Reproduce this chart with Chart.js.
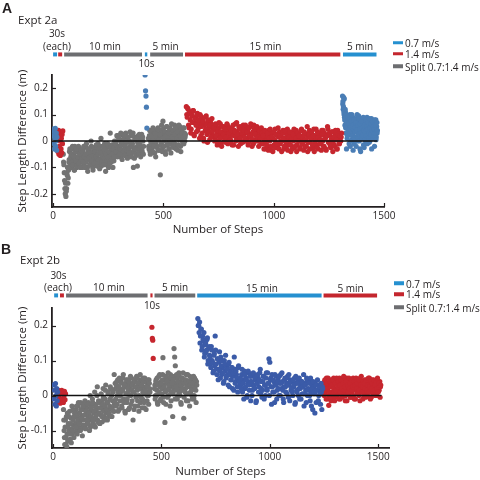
<!DOCTYPE html>
<html>
<head>
<meta charset="utf-8">
<script src="https://cdn.jsdelivr.net/npm/chart.js@4.4.0/dist/chart.umd.min.js"></script>
<style>
  html, body { margin: 0; padding: 0; background: #fff; }
  #wrap { position: relative; width: 480px; height: 480px; overflow: hidden; font-family: "Open Sans", sans-serif; color: #231f20; }
  .pane { position: absolute; left: 0; width: 480px; height: 240px; }
  .t { position: absolute; white-space: nowrap; line-height: 1; font-size: 10px; transform: translate(-50%, -50%); }
  .l { transform: translate(0, -50%); }
  .big { font: bold 14px "Liberation Sans", Arial, sans-serif; }
  .ex { font-size: 11.5px; }
  .sw { position: absolute; width: 10px; height: 3.5px; transform: translate(0, -50%); }
</style>
</head>
<body>
<div id="wrap">
  <div class="pane" style="top:0"><canvas id="chartA" width="480" height="240"></canvas></div>
  <div class="pane" style="top:240px"><canvas id="chartB" width="480" height="240"></canvas></div>

  <!-- panel A labels -->
  <div class="t l big" style="left:2px;top:8px">A</div>
  <div class="t l ex" style="left:18px;top:19.5px">Expt 2a</div>
  <div class="t" style="left:57px;top:33px">30s</div>
  <div class="t" style="left:57px;top:46px">(each)</div>
  <div class="t" style="left:105px;top:46px">10 min</div>
  <div class="t" style="left:165.5px;top:46px">5 min</div>
  <div class="t" style="left:146.5px;top:63px">10s</div>
  <div class="t" style="left:265.5px;top:46px">15 min</div>
  <div class="t" style="left:360px;top:46px">5 min</div>
  <div class="sw" style="left:393px;top:42.8px;background:#2590d0"></div>
  <div class="sw" style="left:393px;top:53.5px;background:#c4262e"></div>
  <div class="sw" style="left:393px;top:66.3px;background:#6d6e71"></div>
  <div class="t l leg" style="left:405px;top:43px"></div>
  <div class="t l leg" style="left:405px;top:53.8px"></div>
  <div class="t l leg" style="left:405px;top:66.6px"></div>

  <!-- panel B labels -->
  <div class="t l big" style="left:1px;top:249px">B</div>
  <div class="t l ex" style="left:20px;top:259.5px">Expt 2b</div>
  <div class="t" style="left:58.5px;top:275px">30s</div>
  <div class="t" style="left:58px;top:287px">(each)</div>
  <div class="t" style="left:109px;top:287px">10 min</div>
  <div class="t" style="left:175px;top:287px">5 min</div>
  <div class="t" style="left:152px;top:304.5px">10s</div>
  <div class="t" style="left:262px;top:288px">15 min</div>
  <div class="t" style="left:350.5px;top:288px">5 min</div>
  <div class="sw" style="left:394px;top:283.3px;background:#2590d0"></div>
  <div class="sw" style="left:394px;top:294px;background:#c4262e"></div>
  <div class="sw" style="left:394px;top:307.3px;background:#6d6e71"></div>
  <div class="t l leg" style="left:406px;top:283.6px"></div>
  <div class="t l leg" style="left:406px;top:294.3px"></div>
  <div class="t l leg" style="left:406px;top:307.6px"></div>
</div>
<script>
// axes
const xTicks = [0, 500, 1000, 1500];
const yTicksA = [-0.2, -0.1, 0, 0.1, 0.2];
const yTicksB = [-0.1, 0, 0.1, 0.2];
const legendLabels = ['0.7 m/s', '1.4 m/s', 'Split 0.7:1.4 m/s'];

// ---- Expt 2a : step length difference (m), read off every few steps ----
// xs = [first step, steps between readings]
const aBlue1X = [1, 1.5];
const aBlue1Y = [0.045, 0.02, -0.01, 0.035, -0.03, 0.01, 0.048, -0.02, 0.0, 0.03, -0.035, 0.015];
const aRed1X = [20, 1.6];
const aRed1Y = [0.03, -0.04, 0.01, 0.04, -0.05, -0.02, 0.02, 0.0, -0.055, 0.035, -0.03, 0.01, -0.045, 0.025, -0.01, 0.038];
const aSplit1X = [46, 3];
const aSplit1Y = [
  -0.05, -0.09, -0.15, -0.2, -0.21, -0.18, -0.13, -0.16, -0.11,
  -0.07, -0.03, -0.1, -0.05, -0.08, -0.02, -0.09, -0.06, -0.11, -0.04, -0.075, -0.03, -0.095, -0.06, -0.02, -0.085, -0.05, -0.1, -0.035, -0.07,
  -0.04, -0.08, -0.02, -0.06, -0.1, -0.05, -0.01, -0.07, -0.115, -0.03, -0.065, -0.09, -0.045, 0.0, -0.075, -0.055, -0.11, -0.025, -0.085, -0.04,
  -0.06, -0.015, -0.095, -0.05, -0.07, -0.03, -0.105, -0.045, 0.01, -0.08, -0.055, -0.02, -0.09, -0.065, -0.035, -0.115, -0.05, -0.075, -0.01, -0.06,
  -0.04, -0.085, 0.03, -0.025, -0.07, -0.05, -0.1, -0.03, -0.06, -0.015,
  -0.01, -0.04, 0.02, -0.06, -0.025, 0.01, -0.05, -0.03, 0.03, -0.015, -0.07, -0.005, -0.04, 0.025, -0.055, -0.02, 0.0, -0.035, -0.065, 0.015,
  -0.03, -0.045, 0.035, -0.01, -0.06, -0.02, 0.02, -0.1, -0.04, 0.005, -0.03, -0.055, 0.01, -0.095, -0.015, -0.045, 0.025, -0.025, -0.06, 0.0,
  -0.035, 0.015, -0.05
];
const aSplit1bX = [47.5, 3];
const aSplit1bY = [
  -0.08, -0.12, -0.18, -0.16, -0.19, -0.12, -0.1, -0.14, -0.08,
  -0.04, -0.09, -0.06, -0.1, -0.03, -0.07, -0.05, -0.11, -0.02, -0.08, -0.06, -0.1, -0.04, -0.07, -0.09, -0.03, -0.06, -0.08, -0.05, -0.1,
  -0.07, -0.03, -0.09, -0.05, -0.02, -0.08, -0.06, -0.1, -0.04, -0.07, -0.03, -0.055, -0.085, -0.02, -0.065, -0.1, -0.04, -0.07, -0.05, -0.09,
  -0.03, -0.075, -0.06, -0.01, -0.085, -0.045, -0.07, -0.02, -0.095, -0.05, -0.065, -0.035, -0.08, -0.01, -0.055, -0.09, -0.025, -0.07, -0.045, -0.1,
  -0.02, -0.06, -0.04, -0.08, -0.015, -0.055, -0.035, -0.075, 0.0, -0.045,
  -0.03, 0.0, -0.05, 0.02, -0.02, -0.045, 0.005, -0.06, -0.01, 0.025, -0.035, -0.015, 0.01, -0.05, -0.025, 0.03, -0.04, -0.005, 0.015, -0.03,
  -0.055, 0.0, -0.02, 0.02, -0.045, -0.01, 0.03, -0.035, -0.065, 0.005, -0.025, 0.015, -0.05, -0.005, 0.02, -0.04, -0.015, 0.01, -0.03, 0.025,
  -0.045, 0.0, -0.02
];
const aBlue10sX = [417, 2];
const aBlue10sY = [0.25, 0.19, 0.17, 0.128, 0.049];
const aSplit2X = [432, 3];
const aSplit2Y = [
  0.01, -0.03, 0.04, -0.05, -0.01, 0.02, -0.04, 0.05, -0.02, 0.0, 0.03, -0.06, 0.015, -0.025, 0.045, -0.035, 0.005, 0.025, -0.128, -0.015,
  0.06, -0.04, 0.075, 0.01, -0.02, 0.035, -0.05, 0.02, 0.055, -0.01, 0.03, -0.03, 0.045, 0.0, -0.045, 0.065, 0.015, -0.02, 0.04, -0.005,
  0.025, 0.05, -0.03, 0.01, 0.035, -0.015, 0.06, 0.005, 0.02, -0.04, 0.045, 0.03, -0.01, 0.015, 0.05, 0.0, 0.025
];
const aSplit2bX = [433.5, 3];
const aSplit2bY = [
  -0.02, 0.02, -0.04, 0.0, 0.035, -0.03, 0.01, -0.015, 0.04, -0.045, 0.02, -0.005, 0.03, -0.02, 0.05, 0.005, -0.035, 0.015, 0.04, -0.01,
  0.025, -0.025, 0.045, 0.0, 0.03, -0.04, 0.015, 0.055, -0.015, 0.035, 0.005, -0.03, 0.05, 0.02, -0.01, 0.04, 0.0, 0.03, -0.025, 0.06,
  0.01, -0.015, 0.045, 0.02, -0.035, 0.035, 0.005, 0.055, -0.02, 0.025, 0.04, 0.0, 0.05, -0.01, 0.03, 0.015
];
const aRed2X = [604, 4];
const aRed2Y = [
  0.13, 0.09, 0.12, 0.05, 0.11, 0.03, 0.1, 0.07, 0.115, 0.02, 0.085, 0.06, 0.1, 0.04, 0.08, 0.01, 0.095, 0.055, 0.03, 0.075, 0.0, 0.09, 0.045, 0.065, -0.005, 0.08, 0.035, 0.06, 0.015, 0.085, 0.04,
  0.05, 0.0, 0.065, 0.02, -0.015, 0.04, 0.07, 0.01, 0.035, -0.02, 0.055, 0.025, 0.0, 0.045, 0.015, 0.065, -0.01, 0.03, 0.05, 0.005,
  0.04, -0.015, 0.06, 0.02, 0.035, 0.0, 0.07, 0.025, -0.02, 0.045, 0.01, 0.055, 0.03, -0.005, 0.04, 0.015, 0.06, 0.0, 0.035, -0.015,
  0.05, 0.02, 0.065, 0.005, 0.03, -0.01, 0.045, 0.025, 0.0, 0.055, 0.015, -0.02, 0.04, 0.01, 0.05, 0.03,
  0.02, -0.03, 0.04, 0.0, -0.015, 0.03, -0.035, 0.01, 0.045, -0.02, 0.015, -0.04, 0.035, 0.005, -0.025, 0.025, -0.01, 0.05, -0.03, 0.02,
  0.0, -0.04, 0.03, 0.01, -0.02, 0.04, -0.005, 0.02, -0.035, 0.015, 0.035, -0.015, 0.005, -0.03, 0.025, 0.045, -0.02, 0.01, -0.04, 0.03,
  0.0, 0.02, -0.025, 0.04, -0.01, 0.015, -0.035, 0.03, 0.005, -0.02, 0.055, -0.005, 0.025, -0.03, 0.01, 0.035, -0.015, 0.02, -0.04, 0.0,
  0.045, -0.025, 0.015, 0.03, -0.01, 0.005, -0.035, 0.025, 0.04, -0.02, 0.01, -0.03, 0.02, 0.055, -0.005, 0.03, -0.015, 0.0, 0.035, -0.04,
  0.015, -0.02, 0.04, 0.005, -0.03, 0.025, -0.01, 0.02, 0.0, 0.03
];
const aRed2bX = [606, 4];
const aRed2bY = [
  0.1, 0.125, 0.06, 0.105, 0.08, 0.045, 0.095, 0.115, 0.025, 0.07, 0.09, 0.035, 0.105, 0.05, 0.065, 0.1, 0.02, 0.07, 0.085, 0.01, 0.06, 0.04, 0.095, 0.025, 0.075, 0.05, 0.005, 0.07, 0.03, 0.055,
  0.02, 0.045, 0.01, 0.06, 0.03, 0.0, 0.05, 0.025, 0.065, -0.01, 0.035, 0.015, 0.055, 0.04, -0.005, 0.03, 0.06, 0.01, 0.045, 0.02,
  0.0, 0.05, 0.03, -0.015, 0.04, 0.065, 0.015, 0.035, 0.005, 0.055, 0.025, -0.01, 0.045, 0.02, 0.06, 0.0, 0.03, 0.05, 0.01, 0.04,
  -0.005, 0.025, 0.055, 0.015, -0.02, 0.035, 0.06, 0.005, 0.03, 0.045, 0.02, 0.0, 0.04, 0.025, -0.01, 0.035,
  -0.01, 0.025, 0.005, -0.03, 0.035, 0.015, -0.02, 0.04, 0.0, 0.02, -0.035, 0.03, 0.01, -0.015, 0.045, -0.005, 0.025, -0.025, 0.015, 0.035,
  -0.01, 0.02, 0.0, 0.04, -0.03, 0.01, 0.03, -0.02, 0.045, 0.005, -0.01, 0.025, -0.04, 0.015, 0.035, 0.0, -0.025, 0.02, 0.04, -0.015,
  0.01, 0.03, -0.03, 0.005, 0.045, -0.01, 0.02, 0.035, -0.02, 0.0, 0.025, -0.04, 0.015, 0.04, -0.005, 0.03, 0.01, -0.025, 0.045, 0.02,
  -0.015, 0.005, 0.035, -0.03, 0.015, 0.025, -0.01, 0.04, 0.0, -0.02, 0.03, 0.01, -0.035, 0.02, 0.045, -0.005, 0.025, -0.025, 0.01, 0.035,
  0.0, -0.015, 0.03, 0.015, -0.03, 0.04, 0.005, -0.01, 0.025, 0.015
];
const aBlue2X = [1312, 2];
const aBlue2Y = [
  0.17, 0.15, 0.13, 0.11, 0.16, 0.08, 0.12, 0.05, 0.1, -0.03, 0.07, 0.02, 0.09, 0.04, 0.065, -0.01, 0.085, 0.03, 0.055, 0.0,
  0.075, 0.1, 0.02, 0.06, -0.035, 0.045, 0.08, 0.01, 0.05, 0.035, 0.07, -0.02, 0.04, 0.1, 0.015, 0.06, 0.025, 0.085, 0.0, 0.045,
  0.065, -0.04, 0.03, 0.075, 0.01, 0.05, 0.02, 0.09, 0.04, -0.025, 0.06, 0.005, 0.035, 0.08, 0.02, 0.055, -0.01, 0.045, 0.07, 0.015,
  0.03, 0.085, 0.0, 0.05, 0.025, 0.065, -0.03, 0.04, 0.075, 0.01, 0.055, 0.02, 0.045, 0.08, 0.03, 0.06, 0.005, 0.035, 0.07, 0.04
];
const aBlue2bX = [1313, 2];
const aBlue2bY = [
  0.14, 0.12, 0.165, 0.1, 0.09, 0.06, 0.11, 0.03, 0.075, 0.095, 0.01, 0.05, 0.085, 0.025, 0.07, 0.04, 0.1, -0.02, 0.06, 0.035,
  0.08, 0.005, 0.05, 0.09, 0.03, 0.065, -0.01, 0.04, 0.075, 0.015, 0.055, 0.085, 0.0, 0.045, 0.07, 0.02, 0.095, 0.035, 0.06, -0.03,
  0.05, 0.08, 0.01, 0.04, 0.065, 0.025, 0.085, -0.015, 0.055, 0.03, 0.075, 0.045, 0.0, 0.07, 0.035, 0.09, 0.015, 0.06, 0.025, 0.08,
  -0.005, 0.05, 0.07, 0.02, 0.04, 0.085, 0.01, 0.065, 0.035, 0.075, 0.025, 0.05, -0.02, 0.06, 0.045, 0.08, 0.015, 0.055, 0.03
];
const aZeroLine = [0, 1470];
// protocol bar: [first step, last step] and condition
const segA = [[0, 18], [23, 41], [50, 403], [416, 427], [440, 589], [598, 1302], [1314, 1466]];
const segCondA = ['slow', 'fast', 'split', 'slow', 'split', 'fast', 'slow'];

// ---- Expt 2b ----
const bBlue1X = [3, 2];
const bBlue1Y = [0.03, -0.01, 0.015, -0.025, 0.034, 0.0, -0.03, 0.02, -0.015, 0.01];
const bRed1X = [20, 2.5];
const bRed1Y = [0.01, -0.02, 0.015, -0.005, 0.012, -0.022, 0.005, -0.015, 0.015, -0.01, 0.008, -0.02, 0.0, 0.012, -0.012, 0.005];
const bSplit1X = [48, 3];
const bSplit1Y = [
  -0.04, -0.1, -0.14, -0.07, -0.12, -0.145, -0.05, -0.09, -0.13, -0.06, -0.11, -0.08, -0.135, -0.03, -0.1, -0.07, -0.12, -0.05,
  -0.06, -0.09, -0.03, -0.11, -0.07, -0.02, -0.08, -0.05, -0.1, -0.04, -0.065, -0.115, -0.03, -0.085, -0.055, -0.015, -0.095, -0.045, -0.07, -0.025,
  -0.08, -0.05, -0.1, 0.0, -0.06, -0.035, -0.085, -0.02, -0.07, -0.045, 0.01, -0.09, -0.03, -0.055, 0.025, -0.075, -0.015, -0.05, -0.08, -0.035,
  0.005, -0.06, -0.025, 0.02, -0.045, -0.07, -0.01, 0.03, -0.04, -0.065, -0.02, 0.01, -0.05, -0.03, 0.025, -0.06, 0.0, -0.035, 0.015, -0.045,
  0.06, -0.02,
  0.02, -0.03, 0.04, 0.0, -0.045, 0.025, 0.05, -0.015, 0.01, 0.035, -0.035, 0.015, 0.06, -0.02, 0.03, -0.05, 0.005, 0.045, -0.01, 0.02,
  -0.04, 0.04, 0.0, 0.055, -0.025, 0.015, 0.03, -0.07, 0.01, 0.045, -0.03, 0.025, 0.0, 0.05, -0.015, 0.035, -0.045, 0.02, 0.06, -0.005,
  0.03, -0.035, 0.01, 0.04, -0.02, 0.05, 0.015, -0.04, 0.025, 0.0, 0.045, -0.025, 0.035, 0.01
];
const bSplit1bX = [49.5, 3];
const bSplit1bY = [
  -0.07, -0.12, -0.09, -0.14, -0.06, -0.11, -0.13, -0.08, -0.1, -0.045, -0.125, -0.065, -0.095, -0.11, -0.04, -0.085, -0.06, -0.105,
  -0.08, -0.04, -0.1, -0.06, -0.03, -0.09, -0.05, -0.075, -0.02, -0.095, -0.06, -0.04, -0.085, -0.07, -0.025, -0.09, -0.055, -0.035, -0.08, -0.06,
  -0.02, -0.07, -0.045, -0.09, -0.03, -0.065, -0.01, -0.075, -0.05, -0.085, -0.025, -0.06, -0.04, 0.0, -0.07, -0.05, -0.02, -0.08, -0.035, -0.055,
  -0.015, -0.075, -0.04, -0.005, -0.06, -0.03, 0.015, -0.05, -0.02, -0.07, 0.005, -0.04, -0.055, -0.01, 0.02, -0.035, -0.06, -0.015, 0.01, -0.045,
  -0.025, 0.035,
  -0.01, 0.03, -0.025, 0.045, 0.01, -0.04, 0.02, 0.0, 0.04, -0.03, 0.015, 0.05, -0.01, 0.025, -0.045, 0.035, 0.005, -0.02, 0.045, 0.01,
  0.03, -0.035, 0.02, 0.0, 0.05, -0.015, 0.035, 0.01, -0.04, 0.025, 0.04, -0.005, 0.055, 0.015, -0.03, 0.03, 0.0, 0.045, -0.02, 0.02,
  0.035, -0.01, 0.05, 0.005, -0.035, 0.025, 0.04, 0.01, -0.015, 0.03, 0.0, 0.045, 0.02
];
const bRed10sX = [456, 2];
const bRed10sY = [0.195, 0.163, 0.158, 0.106];
const bSplit2X = [468, 3];
const bSplit2Y = [
  0.02, -0.01, 0.04, 0.0, 0.05, -0.025, 0.03, 0.01, 0.06, -0.015, 0.035, 0.005, 0.045, 0.108, -0.02, 0.025, -0.077, 0.055, 0.015, 0.04,
  -0.005, 0.065, 0.02, 0.03, -0.03, 0.05, 0.01, 0.035, -0.06, 0.045, 0.134, 0.11, 0.085, 0.025, 0.06, -0.01, 0.04, 0.015, 0.055, 0.0,
  0.03, -0.025, 0.05, 0.02, 0.065, -0.065, 0.035, 0.01, 0.045, -0.015, 0.025, 0.06, 0.005, 0.04, -0.03, 0.03, 0.05, 0.015, -0.01, 0.035,
  0.055, 0.0, 0.025, 0.045, -0.02, 0.03
];
const bSplit2bX = [469.5, 3];
const bSplit2bY = [
  0.03, 0.0, 0.045, 0.015, -0.02, 0.035, 0.055, 0.005, 0.025, -0.01, 0.04, 0.02, 0.06, -0.005, 0.03, 0.045, 0.01, -0.025, 0.035, 0.05,
  0.015, 0.0, 0.04, 0.025, 0.06, -0.015, 0.03, 0.045, 0.005, 0.02, 0.055, -0.01, 0.035, 0.015, 0.05, 0.0, 0.025, 0.065, 0.01, 0.04,
  -0.02, 0.03, 0.05, 0.015, 0.035, -0.005, 0.045, 0.02, 0.06, 0.005, 0.03, -0.015, 0.04, 0.025, 0.055, 0.01, 0.035, 0.0, 0.045, 0.02,
  -0.01, 0.05, 0.03, 0.015, 0.04
];
const bBlue2X = [668, 4];
const bBlue2Y = [
  0.22, 0.2, 0.21, 0.17, 0.19, 0.14, 0.16, 0.18, 0.12, 0.15, 0.13, 0.165, 0.1, 0.14,
  0.11, 0.08, 0.13, 0.095, 0.07, 0.12, 0.17, 0.09, 0.06, 0.105, 0.075, 0.125, 0.05, 0.085, 0.1, 0.065, 0.04, 0.09, 0.115, 0.055,
  0.075, 0.03, 0.095, 0.06, 0.045, 0.08, 0.02, 0.065, 0.11, 0.035, 0.07, 0.05, 0.01, 0.085, 0.04,
  0.05, 0.02, 0.075, 0.035, -0.01, 0.06, 0.025, 0.045, 0.0, 0.07, 0.03, 0.055, -0.015, 0.04, 0.015, 0.065, 0.025, 0.05, -0.02, 0.035,
  0.06, 0.01, 0.045, 0.075, 0.02, -0.005, 0.04, 0.055, 0.03, 0.0, 0.065, 0.015, 0.035, 0.105, 0.095, 0.05, -0.025, 0.025, 0.045, 0.01,
  0.06, 0.03, -0.01, 0.04, 0.02, 0.055, 0.0, 0.035, 0.065, 0.015, -0.02, 0.045, 0.025, 0.05, 0.005, 0.03, 0.06, -0.015, 0.04, 0.02,
  0.01, 0.045, 0.03, -0.025, 0.055, 0.015, 0.035, 0.0, 0.05, 0.02, -0.01, 0.04, 0.025, 0.06, 0.005, 0.03, -0.02, 0.045, 0.015, 0.035,
  0.0, 0.05, -0.03, 0.02, 0.04, 0.01, -0.05, 0.03, 0.015, 0.045, -0.015, 0.025, 0.005, 0.035, -0.04, 0.02
];
const bBlue2bX = [670, 4];
const bBlue2bY = [
  0.2, 0.18, 0.15, 0.19, 0.13, 0.17, 0.155, 0.11, 0.145, 0.125, 0.16, 0.09, 0.135, 0.115,
  0.09, 0.14, 0.1, 0.065, 0.115, 0.085, 0.13, 0.075, 0.105, 0.045, 0.095, 0.07, 0.11, 0.06, 0.08, 0.035, 0.1, 0.07, 0.05, 0.085,
  0.06, 0.09, 0.025, 0.07, 0.045, 0.08, 0.055, 0.015, 0.075, 0.04, 0.06, 0.025, 0.08, 0.045, 0.03,
  0.03, 0.06, 0.01, 0.045, 0.07, 0.02, 0.05, -0.005, 0.035, 0.065, 0.015, 0.04, 0.055, 0.0, 0.03, 0.06, 0.02, 0.045, -0.015, 0.035,
  0.05, 0.025, 0.065, 0.005, 0.04, 0.015, 0.055, -0.01, 0.03, 0.05, 0.02, 0.065, 0.035, 0.0, 0.045, 0.025, 0.06, 0.01, 0.04, -0.02,
  0.03, 0.055, 0.015, 0.045, 0.0, 0.035, 0.06, 0.02, 0.04, -0.01, 0.025, 0.05, 0.01, 0.035, 0.055, -0.005, 0.03, 0.045, 0.015, 0.04,
  0.0, 0.025, 0.05, -0.02, 0.035, 0.01, 0.045, 0.02, -0.01, 0.03, 0.04, 0.005, 0.025, -0.03, 0.035, 0.015, 0.05, 0.0, 0.02, 0.04,
  -0.015, 0.01, 0.03, -0.04, 0.025, 0.005, 0.035, -0.02, 0.015, 0.03, 0.0, 0.02, -0.025, 0.01, 0.025
];
const bRed2X = [1248, 3];
const bRed2Y = [
  0.03, 0.0, 0.045, 0.015, -0.01, 0.035, 0.02, 0.05, -0.028, 0.01, 0.04, 0.025, -0.005, 0.03, 0.045, 0.005, 0.02, -0.015, 0.035, 0.015,
  0.05, 0.0, 0.025, 0.04, -0.01, 0.03, 0.01, 0.045, 0.02, -0.005, 0.035, 0.055, 0.015, 0.025, 0.0, 0.04, -0.015, 0.03, 0.01, 0.05,
  0.02, 0.035, -0.005, 0.045, 0.015, 0.025, 0.0, 0.04, 0.03, -0.01, 0.05, 0.02, 0.035, 0.005, 0.045, 0.015, -0.015, 0.03, 0.055, 0.01,
  0.025, 0.04, 0.0, 0.035, 0.02, -0.005, 0.045, 0.015, 0.03, 0.05, 0.01, 0.025, -0.01, 0.04, 0.02, 0.035, 0.005, 0.045, 0.015, 0.03,
  0.0, 0.04, 0.02, 0.05, 0.01, 0.035, 0.025, -0.005, 0.03
];
const bRed2bX = [1249.5, 3];
const bRed2bY = [
  0.015, 0.04, 0.005, 0.03, 0.05, -0.01, 0.02, 0.035, 0.0, 0.045, 0.025, -0.015, 0.04, 0.01, 0.03, 0.05, 0.015, -0.005, 0.035, 0.02,
  0.045, 0.005, 0.03, 0.015, 0.05, -0.01, 0.025, 0.04, 0.0, 0.035, 0.02, 0.045, 0.01, -0.015, 0.03, 0.05, 0.015, 0.04, 0.005, 0.025,
  0.045, -0.005, 0.035, 0.01, 0.03, 0.05, 0.02, -0.01, 0.04, 0.015, 0.03, 0.005, 0.045, 0.025, 0.0, 0.035, 0.05, 0.01, 0.02, 0.04,
  -0.01, 0.03, 0.015, 0.045, 0.005, 0.025, 0.04, 0.0, 0.035, 0.02, 0.05, 0.01, 0.03, -0.005, 0.045, 0.015, 0.025, 0.04, 0.005, 0.035,
  0.02, 0.0, 0.045, 0.01, 0.03, 0.015, 0.04, 0.025
];
const bZeroLine = [0, 1515];
const segB = [[5, 23], [32, 50], [60, 436], [449, 459], [468, 656], [665, 1239], [1248, 1495]];
const segCondB = ['slow', 'fast', 'split', 'fast', 'split', 'slow', 'fast'];

const barColor = { slow: '#2590d0', fast: '#c4262e', split: '#6d6e71' };
const INK = '#231f20';

document.querySelectorAll('.leg').forEach((el, i) => { el.textContent = legendLabels[i % 3]; });

function seq(xs, ys) {
  return ys.map((y, i) => ({ x: xs[0] + i * xs[1], y: y }));
}

function dots(label, xs, ys, color) {
  return { label, data: seq(xs, ys), backgroundColor: color, borderWidth: 0, pointRadius: 2.6, pointHoverRadius: 2.6 };
}

// inward tick marks
const tickMarks = {
  id: 'tickMarks',
  afterDraw(chart) {
    const { ctx, chartArea, scales } = chart;
    ctx.save();
    ctx.strokeStyle = INK;
    ctx.lineWidth = 1.2;
    scales.x.ticks.forEach(t => {
      const px = Math.round(scales.x.getPixelForValue(t.value)) + 0.5;
      ctx.beginPath(); ctx.moveTo(px, chartArea.bottom); ctx.lineTo(px, chartArea.bottom - 4); ctx.stroke();
    });
    scales.y.ticks.forEach(t => {
      const py = Math.round(scales.y.getPixelForValue(t.value)) + 0.5;
      ctx.beginPath(); ctx.moveTo(chartArea.left, py); ctx.lineTo(chartArea.left + 4, py); ctx.stroke();
    });
    ctx.restore();
  }
};

function makeChart(id, o) {
  const datasets = [];
  datasets.push({ label: 'zero', data: [{ x: o.zero[0], y: 0 }, { x: o.zero[1], y: 0 }], showLine: true, borderColor: '#111', borderWidth: 1.5, pointRadius: 0 });
  o.seg.forEach((s, i) => {
    datasets.push({ label: o.cond[i], data: [{ x: s[0], y: o.barLevel }, { x: s[1], y: o.barLevel }], showLine: true,
      borderColor: barColor[o.cond[i]], borderWidth: 4, borderCapStyle: 'butt', pointRadius: 0, clip: false });
  });
  o.series.forEach(s => datasets.push(s));
  return new Chart(document.getElementById(id), {
    type: 'scatter',
    data: { datasets },
    plugins: [tickMarks],
    options: {
      responsive: false,
      animation: false,
      events: [],
      layout: { padding: { top: o.top, right: o.right, left: 0, bottom: 0 } },
      plugins: { legend: { display: false }, tooltip: { enabled: false } },
      scales: {
        x: {
          type: 'linear', min: -5, max: o.xMax,
          afterBuildTicks: s => { s.ticks = xTicks.map(v => ({ value: v })); },
          afterFit: s => { s.height = o.xH; },
          grid: { display: false, drawTicks: false },
          border: { display: true, color: INK, width: 1.8 },
          ticks: { color: INK, padding: 3, font: { family: 'Open Sans', size: 10 }, callback: v => String(v) },
          title: { display: true, text: 'Number of Steps', color: INK, font: { family: 'Open Sans', size: 11.5 }, padding: { top: 0, bottom: o.xTitlePad } }
        },
        y: {
          type: 'linear', min: o.yMin, max: 0.25,
          afterBuildTicks: s => { s.ticks = o.yTicks.map(v => ({ value: v })); },
          afterFit: s => { s.width = 52; },
          grid: { display: false, drawTicks: false },
          border: { display: true, color: INK, width: 1.8 },
          ticks: { color: INK, padding: 4, font: { family: 'Open Sans', size: 10 }, callback: v => String(v) },
          title: { display: true, text: 'Step Length Difference (m)', color: INK, font: { family: 'Open Sans', size: 11.5 }, padding: { top: 16, bottom: 0 } }
        }
      }
    }
  });
}

const BLUE_A = '#4a7db5', BLUE_B = '#3b5ba8', RED = '#c6262e', GRAY = '#737373';

makeChart('chartA', {
  zero: aZeroLine, seg: segA, cond: segCondA, barLevel: 0.328,
  top: 75, right: 96, xMax: 1500, xH: 33, xTitlePad: 3.6, yMin: -0.25, yTicks: yTicksA,
  series: [
    dots('0.7 m/s', aBlue1X, aBlue1Y, BLUE_A),
    dots('1.4 m/s', aRed1X, aRed1Y, RED),
    dots('Split', aSplit1X, aSplit1Y, GRAY),
    dots('Split', aSplit1bX, aSplit1bY, GRAY),
    dots('0.7 m/s (10s)', aBlue10sX, aBlue10sY, BLUE_A),
    dots('Split', aSplit2X, aSplit2Y, GRAY),
    dots('Split', aSplit2bX, aSplit2bY, GRAY),
    dots('1.4 m/s', aRed2X, aRed2Y, RED),
    dots('1.4 m/s', aRed2bX, aRed2bY, RED),
    dots('0.7 m/s', aBlue2X, aBlue2Y, BLUE_A),
    dots('0.7 m/s', aBlue2bX, aBlue2bY, BLUE_A)
  ]
});

makeChart('chartB', {
  zero: bZeroLine, seg: segB, cond: segCondB, barLevel: 0.286,
  top: 68, right: 91, xMax: 1550, xH: 32, xTitlePad: 1.6, yMin: -0.15, yTicks: yTicksB,
  series: [
    dots('0.7 m/s', bBlue1X, bBlue1Y, BLUE_B),
    dots('1.4 m/s', bRed1X, bRed1Y, RED),
    dots('Split', bSplit1X, bSplit1Y, GRAY),
    dots('Split', bSplit1bX, bSplit1bY, GRAY),
    dots('1.4 m/s (10s)', bRed10sX, bRed10sY, RED),
    dots('Split', bSplit2X, bSplit2Y, GRAY),
    dots('Split', bSplit2bX, bSplit2bY, GRAY),
    dots('0.7 m/s', bBlue2X, bBlue2Y, BLUE_B),
    dots('0.7 m/s', bBlue2bX, bBlue2bY, BLUE_B),
    dots('1.4 m/s', bRed2X, bRed2Y, RED),
    dots('1.4 m/s', bRed2bX, bRed2bY, RED)
  ]
});
</script>
</body>
</html>
